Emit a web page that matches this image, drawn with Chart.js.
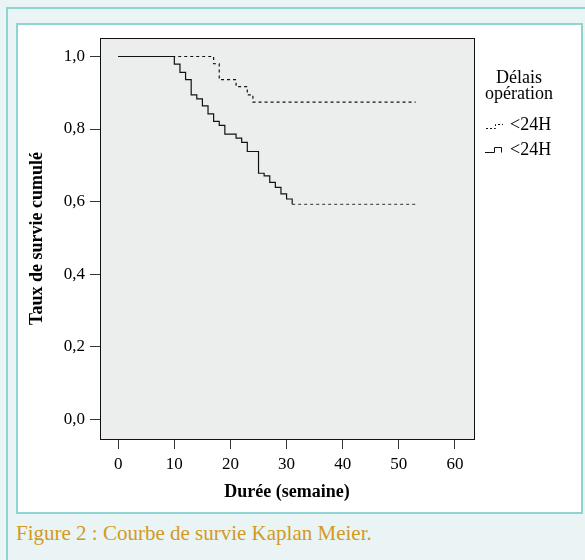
<!DOCTYPE html>
<html lang="fr">
<head>
<meta charset="utf-8">
<script src="https://cdn.jsdelivr.net/npm/chart.js@4.4.1/dist/chart.umd.min.js"></script>
<style>
  body { margin: 0; width: 585px; height: 560px; overflow: hidden; background: #eaf4f5; position: relative; }
  .cadre-ext { position: absolute; left: 6px; top: 7px; width: 600px; height: 580px; border: 2px solid #8fd3d3; box-sizing: border-box; }
  .cadre-int { position: absolute; left: 16px; top: 23px; width: 567px; height: 491px; background: #fff; border: 2px solid #8fd3d3; box-sizing: border-box; }
  .legende { position: absolute; left: 16px; top: 521px; font: 21px "Liberation Serif", serif; color: #d29a1e; }
  canvas { position: absolute; left: 0; top: 0; }
</style>
</head>
<body>
<div class="cadre-ext"></div>
<div class="cadre-int"></div>
<div class="legende">Figure 2 : Courbe de survie Kaplan Meier.</div>
<canvas id="kmChart" width="585" height="560"></canvas>
<script>
// courbes de survie (semaines / taux)
const tempsA = [0, 17, 18, 21, 23, 24, 53];
const survieA = [1, 0.98, 0.936, 0.917, 0.894, 0.874, 0.874];
const tempsB = [0, 10, 11, 12, 13, 14, 15, 16, 17, 18, 19, 21, 22, 23, 25, 26, 27, 28, 29, 30, 31, 53];
const survieB = [1, 0.979, 0.956, 0.936, 0.894, 0.883, 0.864, 0.842, 0.821, 0.81, 0.786, 0.775, 0.763, 0.738, 0.678, 0.671, 0.653, 0.639, 0.621, 0.607, 0.592, 0.592];
const groupes = ["<24H", "<24H"];
const ticksX = [0, 10, 20, 30, 40, 50, 60];
const ticksY = [0, 0.2, 0.4, 0.6, 0.8, 1.0];

Chart.defaults.font.family = '"Liberation Serif", serif';
Chart.defaults.color = "#000";

const cadre = {
  id: "cadre",
  beforeDatasetsDraw(chart) {
    const { ctx, chartArea: a } = chart;
    ctx.save();
    ctx.fillStyle = "#eceeed";
    ctx.fillRect(a.left, a.top, a.right - a.left, a.bottom - a.top);
    ctx.restore();
  },
  afterDraw(chart) {
    const { ctx, chartArea: a } = chart;
    ctx.save();
    ctx.strokeStyle = "#111";
    ctx.lineWidth = 1;
    ctx.strokeRect(Math.round(a.left) + 0.5, Math.round(a.top) + 0.5, Math.round(a.right - a.left), Math.round(a.bottom - a.top));

    // légende
    ctx.fillStyle = "#000";
    ctx.font = '18px "Liberation Serif", serif';
    ctx.textAlign = "center";
    ctx.textBaseline = "middle";
    ctx.fillText("Délais", 519, 78);
    ctx.fillText("opération", 519, 94);
    ctx.textAlign = "left";
    ctx.fillText(groupes[0], 510, 125);
    ctx.fillText(groupes[1], 510, 150);

    ctx.lineWidth = 1;
    ctx.setLineDash([2, 2]);
    ctx.beginPath();
    ctx.moveTo(486, 128.5); ctx.lineTo(495.5, 128.5); ctx.lineTo(495.5, 124.5); ctx.lineTo(503, 124.5);
    ctx.stroke();
    ctx.setLineDash([]);
    ctx.beginPath();
    ctx.moveTo(485, 152.5); ctx.lineTo(494.5, 152.5); ctx.lineTo(494.5, 147.5); ctx.lineTo(501.5, 147.5); ctx.lineTo(501.5, 152.5);
    ctx.stroke();
    ctx.restore();
  }
};

new Chart(document.getElementById("kmChart"), {
  type: "line",
  data: {
    datasets: [
      {
        label: groupes[0],
        data: tempsA.map((t, i) => ({ x: t, y: survieA[i] })),
        borderColor: "#111",
        borderWidth: 1.2,
        borderDash: [3, 3],
        stepped: "before",
        pointRadius: 0,
        fill: false
      },
      {
        label: groupes[1],
        data: tempsB.map((t, i) => ({ x: t, y: survieB[i] })),
        borderColor: "#111",
        borderWidth: 1.2,
        stepped: "before",
        pointRadius: 0,
        fill: false,
        segment: {
          borderDash: c => c.p0DataIndex >= tempsB.length - 2 ? [3, 3] : undefined,
          borderColor: c => c.p0DataIndex >= tempsB.length - 2 ? "#555" : undefined
        }
      }
    ]
  },
  options: {
    responsive: false,
    animation: false,
    layout: { padding: { left: 23, top: 38, right: 111, bottom: 53 } },
    plugins: { legend: { display: false }, tooltip: { enabled: false } },
    scales: {
      x: {
        type: "linear",
        min: -3.25,
        max: 63.4,
        afterBuildTicks: s => { s.ticks = ticksX.map(v => ({ value: v })); },
        afterFit: s => { s.height = 68; },
        ticks: { font: { size: 17 }, padding: 5, maxRotation: 0 },
        grid: { drawOnChartArea: false, tickLength: 10, color: "#333" },
        border: { display: true, color: "#111" },
        title: { display: true, text: "Durée (semaine)", font: { size: 18, weight: "bold" } }
      },
      y: {
        type: "linear",
        min: -0.055,
        max: 1.051,
        afterBuildTicks: s => { s.ticks = ticksY.map(v => ({ value: v })); },
        afterFit: s => { s.width = 77; },
        ticks: { font: { size: 17 }, padding: 5, callback: v => v.toFixed(1).replace(".", ",") },
        grid: { drawOnChartArea: false, tickLength: 10, color: "#333" },
        border: { display: true, color: "#111" },
        title: { display: true, text: "Taux de survie cumulé", font: { size: 18, weight: "bold" } }
      }
    }
  },
  plugins: [cadre]
});
</script>
</body>
</html>
